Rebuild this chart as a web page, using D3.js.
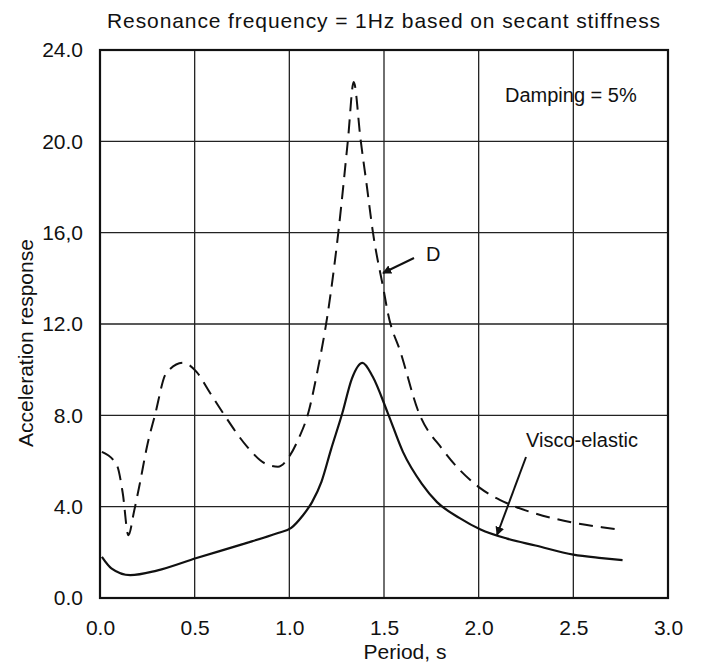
<!DOCTYPE html>
<html>
<head>
<meta charset="utf-8">
<script src="https://cdn.jsdelivr.net/npm/d3@7/dist/d3.min.js"></script>
<style>
  html, body { margin: 0; padding: 0; background: #fff; }
  svg text { font-family: "Liberation Sans", Arial, Helvetica, sans-serif; fill: #111; }
</style>
</head>
<body>
<div id="chart"></div>
<script>
// Valores
const xTicks = [0.0, 0.5, 1.0, 1.5, 2.0, 2.5, 3.0];
const xTickLabels = ['0.0', '0.5', '1.0', '1.5', '2.0', '2.5', '3.0'];
const yTicks = [0, 4, 8, 12, 16, 20, 24];
const yTickLabels = ['0.0', '4.0', '8.0', '12.0', '16,0', '20.0', '24.0'];

// Curva visco-elástica (línea continua)
const viscoPeriod = [0.01, 0.06, 0.16, 0.3, 0.51, 0.75, 0.94, 1.01, 1.07, 1.12, 1.17, 1.22, 1.28, 1.33, 1.386, 1.44, 1.52, 1.6, 1.7, 1.78, 1.9, 2.01, 2.15, 2.3, 2.5, 2.65, 2.76];
const viscoAccel  = [1.8, 1.3, 1.0, 1.2, 1.75, 2.35, 2.85, 3.07, 3.6, 4.2, 5.1, 6.5, 8.1, 9.6, 10.3, 9.7, 8.1, 6.4, 5.0, 4.2, 3.5, 3.0, 2.6, 2.3, 1.9, 1.75, 1.66];

// Curva D (línea discontinua)
const dPeriod = [0.01, 0.09, 0.12, 0.15, 0.18, 0.21, 0.25, 0.29, 0.35, 0.44, 0.51, 0.58, 0.65, 0.78, 0.87, 0.94, 1.0, 1.05, 1.1, 1.15, 1.2, 1.26, 1.31, 1.34, 1.376, 1.41, 1.44, 1.5, 1.52, 1.59, 1.68, 1.81, 2.01, 2.15, 2.3, 2.5, 2.65, 2.76];
const dAccel  = [6.4, 5.8, 4.6, 2.75, 3.8, 5.0, 6.7, 8.0, 9.85, 10.3, 9.9, 9.0, 8.1, 6.6, 5.9, 5.75, 6.2, 7.0, 8.1, 10.0, 12.3, 16.1, 20.1, 22.6, 20.1, 18.0, 16.1, 13.4, 12.5, 10.7, 8.2, 6.5, 4.8, 4.15, 3.7, 3.3, 3.1, 2.98];

const W = 703, H = 666;
const margin = { top: 50, right: 35, bottom: 68, left: 100 };
const width = W - margin.left - margin.right;
const height = H - margin.top - margin.bottom;

const svg = d3.select('#chart').append('svg')
  .attr('width', W)
  .attr('height', H);

const g = svg.append('g')
  .attr('transform', `translate(${margin.left},${margin.top})`);

const x = d3.scaleLinear().domain([0, 3]).range([0, width]);
const y = d3.scaleLinear().domain([0, 24]).range([height, 0]);

// Rejilla
g.append('g')
  .selectAll('line.vgrid')
  .data(xTicks)
  .enter().append('line')
  .attr('x1', d => x(d)).attr('x2', d => x(d))
  .attr('y1', 0).attr('y2', height)
  .attr('stroke', '#222').attr('stroke-width', 1.3);

g.append('g')
  .selectAll('line.hgrid')
  .data(yTicks)
  .enter().append('line')
  .attr('x1', 0).attr('x2', width)
  .attr('y1', d => y(d)).attr('y2', d => y(d))
  .attr('stroke', '#222').attr('stroke-width', 1.3);

// Marco
g.append('rect')
  .attr('x', 0).attr('y', 0)
  .attr('width', width).attr('height', height)
  .attr('fill', 'none').attr('stroke', '#111').attr('stroke-width', 2.2);

// Etiquetas de ejes
const xAxis = d3.axisBottom(x).tickValues(xTicks)
  .tickFormat((d, i) => xTickLabels[i]).tickSize(0).tickPadding(22);
g.append('g')
  .attr('transform', `translate(0,${height})`)
  .call(xAxis)
  .call(s => s.select('.domain').remove())
  .selectAll('text')
  .style('font-size', '21px')
  .attr('fill', '#111');

const yAxis = d3.axisLeft(y).tickValues(yTicks)
  .tickFormat((d, i) => yTickLabels[i]).tickSize(0).tickPadding(17);
g.append('g')
  .call(yAxis)
  .call(s => s.select('.domain').remove())
  .selectAll('text')
  .style('font-size', '21px')
  .attr('fill', '#111');

// Curvas
const line = d3.line()
  .x(d => x(d[0]))
  .y(d => y(d[1]))
  .curve(d3.curveMonotoneX);

g.append('path')
  .datum(dPeriod.map((p, i) => [p, dAccel[i]]))
  .attr('d', line)
  .attr('fill', 'none')
  .attr('stroke', '#111')
  .attr('stroke-width', 2)
  .attr('stroke-dasharray', '14,8');

g.append('path')
  .datum(viscoPeriod.map((p, i) => [p, viscoAccel[i]]))
  .attr('d', line)
  .attr('fill', 'none')
  .attr('stroke', '#111')
  .attr('stroke-width', 2.2);

// Títulos
svg.append('text')
  .attr('x', 384).attr('y', 28)
  .attr('text-anchor', 'middle')
  .style('font-size', '21px')
  .style('letter-spacing', '0.9px')
  .text('Resonance frequency = 1Hz based on secant stiffness');

svg.append('text')
  .attr('x', 405).attr('y', 659)
  .attr('text-anchor', 'middle')
  .style('font-size', '21px')
  .text('Period, s');

svg.append('text')
  .attr('transform', 'translate(33,343) rotate(-90)')
  .attr('text-anchor', 'middle')
  .style('font-size', '21px')
  .text('Acceleration response');

// Anotaciones
svg.append('defs').append('marker')
  .attr('id', 'arrow')
  .attr('viewBox', '0 0 10 10')
  .attr('refX', 9).attr('refY', 5)
  .attr('markerWidth', 9).attr('markerHeight', 9)
  .attr('markerUnits', 'userSpaceOnUse')
  .attr('orient', 'auto')
  .append('path')
  .attr('d', 'M0,0 L10,5 L0,10 Z')
  .attr('fill', '#111');

svg.append('text')
  .attr('x', 505).attr('y', 102)
  .style('font-size', '20px')
  .text('Damping = 5%');

svg.append('text')
  .attr('x', 426).attr('y', 261)
  .style('font-size', '20px')
  .text('D');

svg.append('line')
  .attr('x1', 414).attr('y1', 258)
  .attr('x2', 383).attr('y2', 273)
  .attr('stroke', '#111').attr('stroke-width', 2)
  .attr('marker-end', 'url(#arrow)');

svg.append('text')
  .attr('x', 526).attr('y', 447)
  .style('font-size', '20px')
  .text('Visco-elastic');

svg.append('line')
  .attr('x1', 526).attr('y1', 457)
  .attr('x2', 497).attr('y2', 535)
  .attr('stroke', '#111').attr('stroke-width', 2)
  .attr('marker-end', 'url(#arrow)');
</script>
</body>
</html>
